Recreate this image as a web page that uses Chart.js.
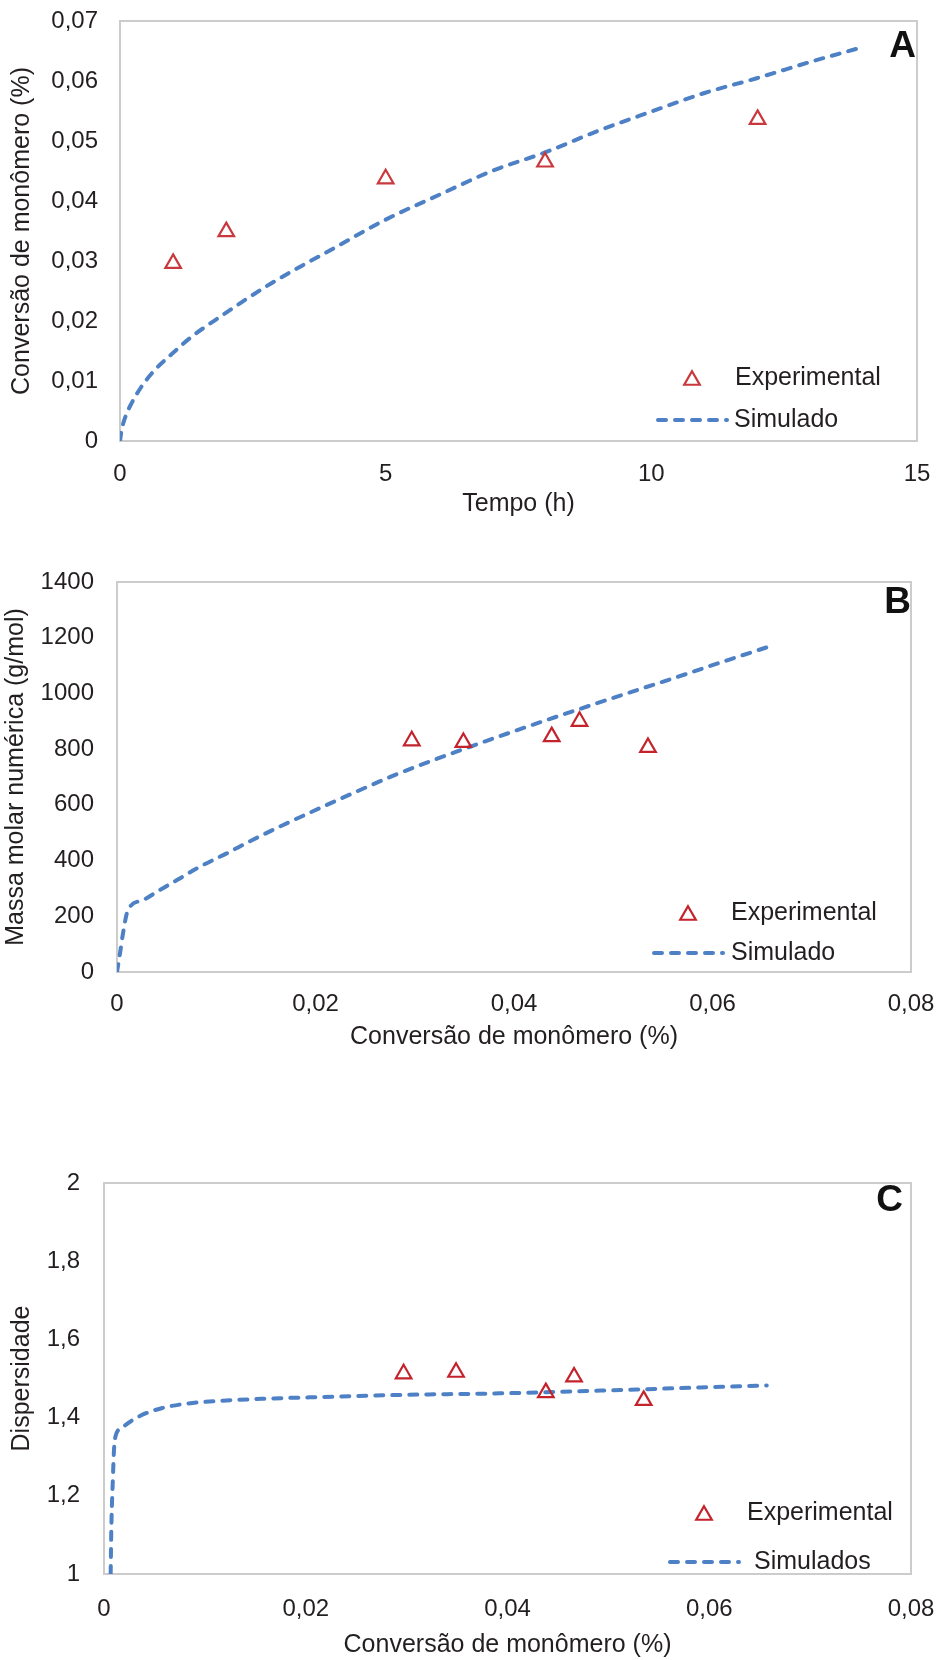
<!DOCTYPE html>
<html lang="pt">
<head>
<meta charset="utf-8">
<title>Conversão, massa molar e dispersidade</title>
<script src="https://cdn.jsdelivr.net/npm/chart.js@4.4.1/dist/chart.umd.min.js"></script>
<style>
  html, body { margin: 0; padding: 0; background: #fff; }
  #page { position: relative; width: 936px; height: 1660px; }
  canvas { position: absolute; left: 0; }
</style>
</head>
<body>
<div id="page">
  <canvas id="chartA" width="936" height="530" style="top:0px"></canvas>
  <canvas id="chartB" width="936" height="520" style="top:540px"></canvas>
  <canvas id="chartC" width="936" height="520" style="top:1140px"></canvas>
</div>
<script>
// ---------- dados ----------

// A - conversão x tempo
var tempoExp = [1, 2, 5, 8, 12];
var convExp = [0.0296, 0.0349, 0.0437, 0.0465, 0.0536];
var tempoSim = [0, 0.03, 0.1, 0.2, 0.4, 0.65, 1, 1.35, 1.8, 2.3, 2.85, 3.4, 4, 4.5, 5, 6, 7, 8, 9, 10, 11, 12, 13, 14];
var convSim = [0, 0.0018, 0.0040, 0.0060, 0.0090, 0.0118, 0.0147, 0.0174, 0.0202, 0.0232, 0.0263, 0.0291, 0.0320, 0.0345, 0.0369, 0.0410, 0.0450, 0.0481, 0.0517, 0.0549, 0.0580, 0.0605, 0.0632, 0.0657];

// B - massa molar numérica x conversão
var convExpB = [0.0297, 0.0349, 0.0438, 0.0466, 0.0535];
var mnExp = [830, 824, 845, 900, 806];
var convSimB = [0, 0.0003, 0.0006, 0.0011, 0.0026, 0.0043, 0.0060, 0.0083, 0.0110, 0.0137, 0.0167, 0.0198, 0.0224, 0.0282, 0.0349, 0.0416, 0.0466, 0.0517, 0.0567, 0.0614, 0.0662];
var mnSim = [0, 66, 138, 222, 258, 294, 329, 377, 425, 475, 527, 578, 620, 710, 800, 884, 944, 1004, 1062, 1118, 1174];

// C - dispersidade x conversão
var convExpC = [0.0297, 0.0349, 0.0438, 0.0466, 0.0535];
var dispExp = [1.512, 1.516, 1.464, 1.504, 1.444];
var convSimC = [0.00066, 0.00073, 0.00089, 0.00099, 0.00113, 0.00173, 0.0034, 0.0057, 0.0083, 0.0116, 0.0156, 0.0206, 0.0293, 0.0392, 0.0492, 0.0591, 0.0657];
var dispSim = [1.0, 1.12, 1.25, 1.317, 1.351, 1.373, 1.402, 1.424, 1.436, 1.443, 1.448, 1.452, 1.458, 1.462, 1.469, 1.477, 1.482];

// eixos
var ticksTempo = [0, 5, 10, 15];
var labelsTempo = ['0', '5', '10', '15'];
var ticksConvA = [0, 0.01, 0.02, 0.03, 0.04, 0.05, 0.06, 0.07];
var labelsConvA = ['0', '0,01', '0,02', '0,03', '0,04', '0,05', '0,06', '0,07'];
var ticksConv = [0, 0.02, 0.04, 0.06, 0.08];
var labelsConv = ['0', '0,02', '0,04', '0,06', '0,08'];
var ticksMn = [0, 200, 400, 600, 800, 1000, 1200, 1400];
var labelsMn = ['0', '200', '400', '600', '800', '1000', '1200', '1400'];
var ticksDisp = [1, 1.2, 1.4, 1.6, 1.8, 2];
var labelsDisp = ['1', '1,2', '1,4', '1,6', '1,8', '2'];

// ---------- estilo ----------
var FONT = '"Liberation Sans", Arial, Helvetica, sans-serif';
var TEXT = '#231f20';
var RED = '#c4232c';
var BLUE = '#4d80c4';
var DASH = [8, 9];

Chart.defaults.font.family = FONT;
Chart.defaults.color = TEXT;

function pts(xs, ys) {
    return xs.map(function (x, i) { return { x: x, y: ys[i] }; });
}

// caixa cinza em volta da área do gráfico
var boxPlugin = {
    id: 'plotBox',
    beforeDatasetsDraw: function (chart) {
        var a = chart.chartArea, ctx = chart.ctx;
        ctx.save();
        ctx.strokeStyle = '#cccccc';
        ctx.lineWidth = 2;
        ctx.strokeRect(a.left, a.top, a.right - a.left, a.bottom - a.top);
        ctx.restore();
    }
};

function triangle(ctx, x, y, r, color, lw) {
    // centrado pela caixa do triângulo
    var yc = y + r / 4;
    ctx.beginPath();
    ctx.moveTo(x, yc - r);
    ctx.lineTo(x + r * 0.866, yc + r / 2);
    ctx.lineTo(x - r * 0.866, yc + r / 2);
    ctx.closePath();
    ctx.strokeStyle = color;
    ctx.lineWidth = lw;
    ctx.stroke();
}

// legenda dentro do gráfico + letra do painel
var panelPlugin = {
    id: 'panel',
    afterDatasetsDraw: function (chart, args, o) {
        var ctx = chart.ctx;
        var exp = chart.data.datasets[0], sim = chart.data.datasets[1];
        ctx.save();
        ctx.font = 'bold 37px ' + FONT;
        ctx.fillStyle = '#111111';
        ctx.textAlign = 'right';
        ctx.textBaseline = 'alphabetic';
        ctx.fillText(o.letter, o.letterX, o.letterY);

        triangle(ctx, o.markX, o.markY, exp.pointRadius, exp.borderColor, exp.borderWidth);
        ctx.beginPath();
        ctx.setLineDash(sim.borderDash);
        ctx.lineCap = 'round';
        ctx.strokeStyle = sim.borderColor;
        ctx.lineWidth = sim.borderWidth;
        ctx.moveTo(o.lineX1, o.lineY);
        ctx.lineTo(o.lineX2, o.lineY);
        ctx.stroke();
        ctx.setLineDash([]);

        ctx.font = '25px ' + FONT;
        ctx.fillStyle = TEXT;
        ctx.textAlign = 'left';
        ctx.textBaseline = 'middle';
        ctx.fillText(exp.label, o.textX, o.markY);
        ctx.fillText(sim.label, o.text2X, o.lineY);
        ctx.restore();
    }
};

// zera o espaço extra que o Chart.js reserva para os rótulos das pontas
function noEdgePadding(s) {
    s.paddingTop = 0;
    s.paddingBottom = 0;
    s.paddingLeft = 0;
    s.paddingRight = 0;
}

function xAxis(min, max, vals, labels, title, height, pad, titlePad) {
    return {
        type: 'linear', min: min, max: max,
        grid: { display: false, drawTicks: false }, border: { display: false },
        afterBuildTicks: function (s) { s.ticks = vals.map(function (v) { return { value: v }; }); },
        afterFit: function (s) { s.height = height; noEdgePadding(s); },
        ticks: { padding: pad, font: { size: 24 }, color: TEXT, maxRotation: 0,
                 callback: function (v, i) { return labels[i]; } },
        title: { display: true, text: title, font: { size: 25 }, color: TEXT,
                 padding: { top: 0, bottom: titlePad } }
    };
}

function yAxis(min, max, vals, labels, title, width, pad, titlePad) {
    return {
        type: 'linear', min: min, max: max,
        grid: { display: false, drawTicks: false }, border: { display: false },
        afterBuildTicks: function (s) { s.ticks = vals.map(function (v) { return { value: v }; }); },
        afterFit: function (s) { s.width = width; noEdgePadding(s); },
        ticks: { padding: pad, font: { size: 24 }, color: TEXT,
                 callback: function (v, i) { return labels[i]; } },
        title: { display: true, text: title, font: { size: 25 }, color: TEXT,
                 padding: { top: titlePad, bottom: 0 } }
    };
}

function makeChart(id, expData, simData, simLabel, expColor, scales, padding, panel) {
    var ctx = document.getElementById(id).getContext('2d');
    return new Chart(ctx, {
        type: 'scatter',
        data: {
            datasets: [{
                label: 'Experimental',
                data: expData,
                pointStyle: 'triangle',
                pointRadius: 9,
                pointHoverRadius: 9,
                borderWidth: 2.2,
                borderColor: expColor,
                backgroundColor: 'rgba(255,255,255,0)',
                order: 1
            }, {
                label: simLabel,
                data: simData,
                showLine: true,
                pointRadius: 0,
                borderColor: BLUE,
                borderWidth: 4,
                borderDash: DASH,
                borderCapStyle: 'round',
                cubicInterpolationMode: 'monotone',
                order: 2
            }]
        },
        options: {
            responsive: false,
            animation: false,
            devicePixelRatio: 1,
            layout: { padding: padding },
            plugins: { legend: { display: false }, tooltip: { enabled: false }, panel: panel },
            scales: scales
        },
        plugins: [boxPlugin, panelPlugin]
    });
}

// A
makeChart('chartA', pts(tempoExp, convExp), pts(tempoSim, convSim), 'Simulado', '#c8383c', {
    x: xAxis(0, 15, ticksTempo, labelsTempo, 'Tempo (h)', 89, 19, 11),
    y: yAxis(0, 0.07, ticksConvA, labelsConvA, 'Conversão de monômero (%)', 120, 22, 7)
}, { left: 0, right: 19, top: 21, bottom: 0 }, {
    letter: 'A', letterX: 916, letterY: 57,
    markX: 692, markY: 378, textX: 735,
    lineX1: 658, lineX2: 727, lineY: 420, text2X: 734
});

// B
makeChart('chartB', pts(convExpB, mnExp), pts(convSimB, mnSim), 'Simulado', RED, {
    x: xAxis(0, 0.08, ticksConv, labelsConv, 'Conversão de monômero (%)', 88, 18, 8),
    y: yAxis(0, 1400, ticksMn, labelsMn, 'Massa molar numérica (g/mol)', 117, 23, 1)
}, { left: 0, right: 25, top: 42, bottom: 0 }, {
    letter: 'B', letterX: 911, letterY: 73,
    markX: 688, markY: 373, textX: 731,
    lineX1: 654, lineX2: 723, lineY: 413, text2X: 731
});

// C
makeChart('chartC', pts(convExpC, dispExp), pts(convSimC, dispSim), 'Simulados', RED, {
    x: xAxis(0, 0.08, ticksConv, labelsConv, 'Conversão de monômero (%)', 86, 21, 0),
    y: yAxis(1, 2, ticksDisp, labelsDisp, 'Dispersidade', 104, 24, 7)
}, { left: 0, right: 25, top: 43, bottom: 0 }, {
    letter: 'C', letterX: 903, letterY: 71,
    markX: 704, markY: 373, textX: 747,
    lineX1: 670, lineX2: 739, lineY: 422, text2X: 754
});
</script>
</body>
</html>
